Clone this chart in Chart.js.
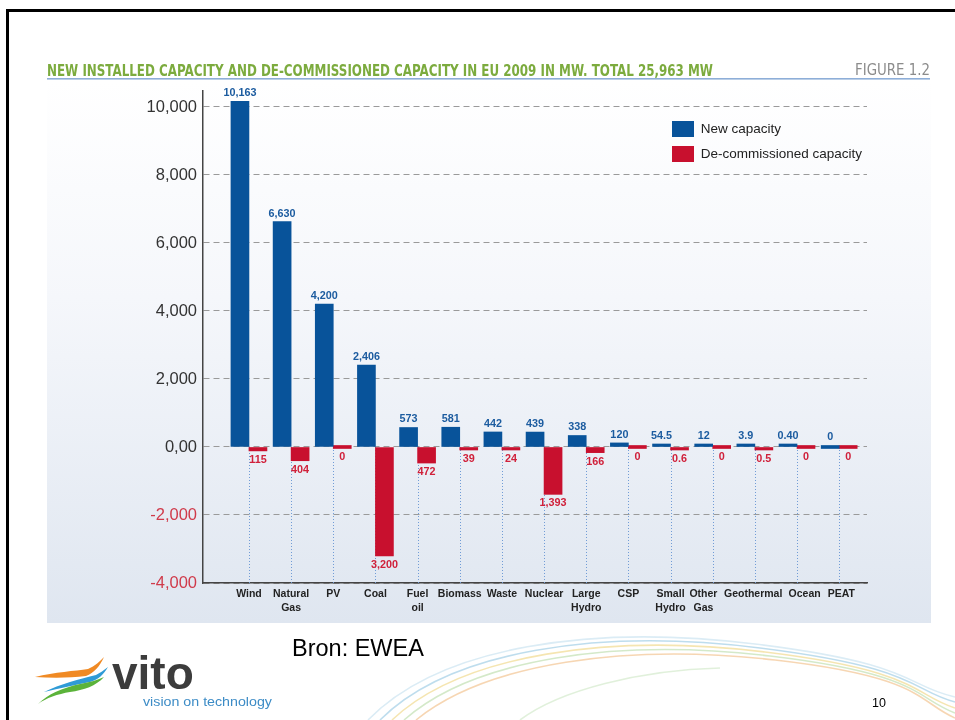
<!DOCTYPE html>
<html><head><meta charset="utf-8">
<script src="https://cdn.jsdelivr.net/npm/chart.js@4.4.1/dist/chart.umd.min.js"></script>
<style>
html,body{margin:0;padding:0;width:955px;height:720px;overflow:hidden;background:#fff;}
.abs{position:absolute;left:0;top:0;}
#panel{position:absolute;left:47px;top:81px;width:884px;height:542px;background:linear-gradient(to bottom,#ffffff 0%,#f5f7fb 40%,#dfe6f0 100%);}
</style></head><body>
<svg class="abs" width="955" height="720">
  <g fill="none" stroke-width="1.6" opacity="0.75">
    <path d="M380 720 C 450 650, 600 628, 760 648 S 910 690, 955 702" stroke="#a9d2e8"/>
    <path d="M392 720 C 462 654, 610 633, 765 652 S 912 694, 955 708" stroke="#f2dd98"/>
    <path d="M404 720 C 474 658, 618 638, 770 656 S 915 698, 955 713" stroke="#c6e2b8"/>
    <path d="M416 720 C 486 663, 626 643, 775 660 S 918 702, 955 718" stroke="#f4c99a"/>
    <path d="M368 720 C 440 646, 592 624, 755 644 S 905 686, 955 697" stroke="#cfe6f2"/>
    <path d="M520 720 C 560 690, 640 670, 720 668" stroke="#d7ecd0"/>
  </g>
  <rect x="6" y="9" width="949" height="3" fill="#000"/>
  <rect x="6" y="9" width="3" height="711" fill="#000"/>
</svg>
<div id="panel"></div>
<canvas id="c" class="abs" width="955" height="720"></canvas>
<svg class="abs" width="955" height="720">
  <text x="47" y="76" textLength="666" lengthAdjust="spacingAndGlyphs" font-family="'Liberation Sans Narrow','Arial Narrow','DejaVu Sans Condensed',sans-serif" font-weight="bold" font-size="16" fill="#7cab3e">NEW INSTALLED CAPACITY AND DE-COMMISSIONED CAPACITY IN EU 2009 IN MW. TOTAL 25,963 MW</text>
  <text x="855" y="75" textLength="75" lengthAdjust="spacingAndGlyphs" font-family="'Liberation Sans Narrow','Arial Narrow','DejaVu Sans Condensed',sans-serif" font-size="15" fill="#8c8c8c">FIGURE 1.2</text>
  <rect x="47" y="78" width="883" height="1.6" fill="#8eaed8"/>
  <text x="292" y="656" font-family="'Liberation Sans',Arial,sans-serif" font-size="23.5" fill="#000">Bron: EWEA</text>
  <text x="872" y="707" font-family="'Liberation Sans',Arial,sans-serif" font-size="12.5" fill="#000">10</text>
  <path d="M35 677 C 55 672, 75 671, 88 669 C 95 666, 100 661, 104 657 C 100 666, 94 673, 86 676 C 70 678, 52 678, 35 677 Z" fill="#f08a24"/>
  <path d="M44 692 C 60 684, 80 679, 96 675 C 100 673, 104 670, 108 667 C 104 674, 98 680, 90 682 C 75 685, 60 688, 44 692 Z" fill="#2f9bd6"/>
  <path d="M38 704 C 48 694, 62 688, 80 684 C 90 682, 98 680, 104 677 C 96 686, 84 690, 70 692 C 58 694, 46 698, 38 704 Z" fill="#5bb33a"/>
  <text x="112" y="689" font-family="'Liberation Sans',Arial,sans-serif" font-weight="bold" font-size="46" fill="#3c3c3c">vito</text>
  <text x="143" y="706" textLength="129" lengthAdjust="spacingAndGlyphs" font-family="'Liberation Sans',Arial,sans-serif" font-size="13" fill="#3d8cc6">vision on technology</text>
</svg>
<script>
const categories = [['Wind'],['Natural','Gas'],['PV'],['Coal'],['Fuel','oil'],['Biomass'],['Waste'],['Nuclear'],['Large','Hydro'],['CSP'],['Small','Hydro'],['Other','Gas'],['Geothermal'],['Ocean'],['PEAT']];
const newCapacity = [10163, 6630, 4200, 2406, 573, 581, 442, 439, 338, 120, 54.5, 12, 3.9, 0.40, 0];
const decommissioned = [115, 404, 0, 3200, 472, 39, 24, 1393, 166, 0, 0.6, 0, 0.5, 0, 0];
const newLabels = ['10,163','6,630','4,200','2,406','573','581','442','439','338','120','54.5','12','3.9','0.40','0'];
const decomLabels = ['115','404','0','3,200','472','39','24','1,393','166','0','0.6','0','0.5','0','0'];
const yTickValues = [-4000,-2000,0,2000,4000,6000,8000,10000];
const yTickLabels = ['-4,000','-2,000','0,00','2,000','4,000','6,000','8,000','10,000'];
const seriesNames = ['New capacity','De-commissioned capacity'];
// small horizontal nudges of the category names (in category units), as in the source layout
const labelNudge = [0,0,0,0,0,0,0,0,0,0,0,-0.22,-0.04,0.18,0.05];

const BLUE = '#08539a', RED = '#c8102e';

const zeroDrops = {
  id:'zeroDrops',
  beforeDatasetsDraw(chart){
    const {ctx, scales:{x,y}, chartArea} = chart;
    const y0 = y.getPixelForValue(0);
    ctx.save();
    ctx.strokeStyle = '#6f9bd6'; ctx.lineWidth = 1; ctx.setLineDash([1,2]);
    categories.forEach((c,i)=>{
      const px = Math.round(x.getPixelForValue(i)) + 0.5;
      ctx.beginPath(); ctx.moveTo(px, y0); ctx.lineTo(px, chartArea.bottom); ctx.stroke();
    });
    ctx.restore();
  }
};
const valueLabels = {
  id:'valueLabels',
  afterDatasetsDraw(chart){
    const ctx = chart.ctx;
    ctx.save();
    ctx.font = 'bold 10.8px "Liberation Sans", Arial, sans-serif';
    ctx.textAlign = 'center'; ctx.textBaseline = 'middle';
    chart.getDatasetMeta(0).data.forEach((bar,i)=>{
      ctx.fillStyle = '#1b5b9f';
      ctx.fillText(newLabels[i], bar.x, Math.min(bar.y, bar.base) - 8);
    });
    chart.getDatasetMeta(1).data.forEach((bar,i)=>{
      ctx.fillStyle = '#d0203a';
      ctx.fillText(decomLabels[i], bar.x, Math.max(bar.y, bar.base) + 9);
    });
    ctx.restore();
  }
};
const legendPlace = {
  id:'legendPlace',
  afterLayout(chart){
    const l = chart.legend;
    const w = l.width;
    l.left = 663; l.top = 112; l.right = l.left + w; l.bottom = l.top + 200;
  }
};

new Chart(document.getElementById('c'), {
  type:'bar',
  data:{
    datasets:[
      {label: seriesNames[0], data: newCapacity.map((v,i)=>({x:i, y:v})), backgroundColor: BLUE, borderWidth:0, minBarLength:3},
      {label: seriesNames[1], data: decommissioned.map((v,i)=>({x:i, y:-v})), backgroundColor: RED, borderWidth:0, minBarLength:3}
    ]
  },
  options:{
    responsive:false, animation:false, devicePixelRatio:1,
    layout:{padding:{left:143, right:88, top:91, bottom:92}},
    datasets:{bar:{barThickness:18, grouped:true}},
    plugins:{
      title:{display:false}, tooltip:{enabled:false},
      legend:{
        position:'chartArea', align:'start',
        labels:{boxWidth:22, boxHeight:16, padding:9, color:'#222', font:{family:'"Liberation Sans", Arial, sans-serif', size:13.5}}
      }
    },
    scales:{
      x:{
        type:'linear', min:-1.09, max:14.66, offset:false,
        grid:{display:false, drawTicks:false},
        border:{display:true, color:'#444', width:1.5},
        afterBuildTicks: s => { s.ticks = categories.map((c,i)=>({value:i + labelNudge[i]})); },
        afterFit: s => { s.height = 45; },
        ticks:{autoSkip:false, maxRotation:0, minRotation:0, padding:4, color:'#222',
          font:{family:'"Liberation Sans", Arial, sans-serif', size:10.5, weight:'bold', lineHeight:1.35},
          callback: v => categories[Math.round(v)] }
      },
      y:{
        min:-4000, max:10470,
        grid:{color:'#9a9a9a', lineWidth:1, drawTicks:false},
        border:{display:true, color:'#444', width:1.5, dash:[6,4]},
        afterBuildTicks: s => { s.ticks = yTickValues.map(v=>({value:v})); },
        afterFit: s => { s.width = 60; },
        ticks:{padding:6, font:{family:'"Liberation Sans", Arial, sans-serif', size:16.5},
          color: c => (c.tick && c.tick.value < 0) ? '#d03a4a' : '#333',
          callback: v => yTickLabels[yTickValues.indexOf(v)] }
      }
    }
  },
  plugins:[zeroDrops, valueLabels, legendPlace]
});
</script>
</body></html>
